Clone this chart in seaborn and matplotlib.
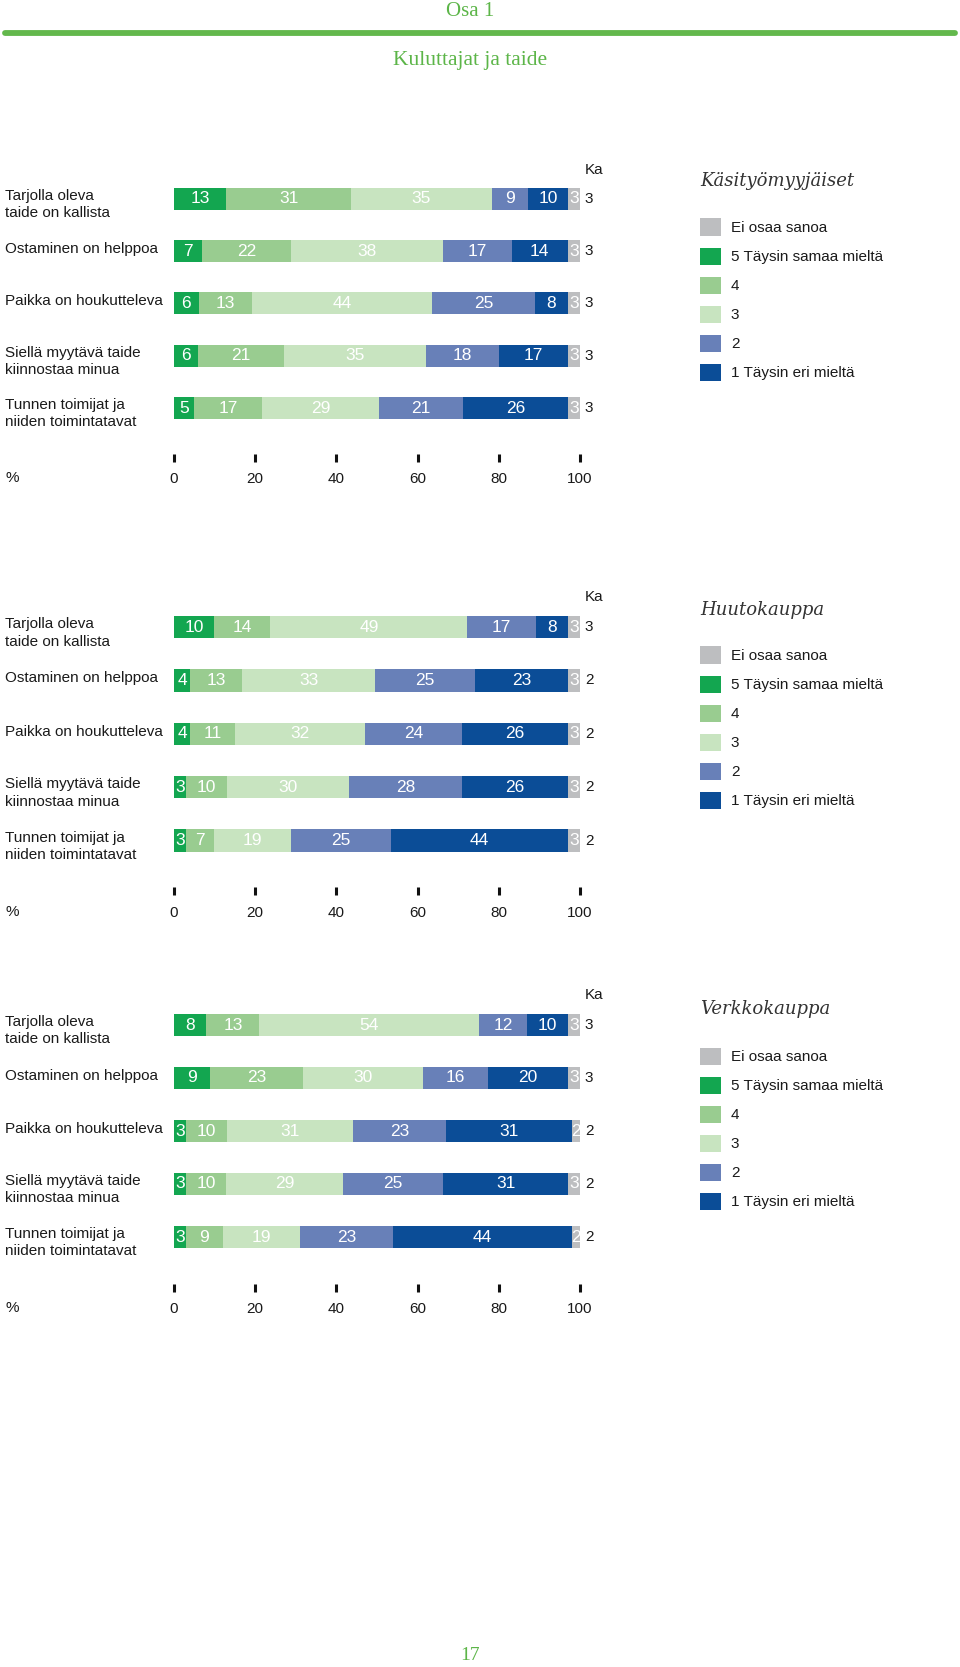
import numpy as np
import pandas as pd
import matplotlib
matplotlib.use("Agg")
import matplotlib.pyplot as plt
import seaborn as sns
from matplotlib.patches import Patch
from matplotlib.lines import Line2D

sns.set_theme(style="white")
plt.rcParams['font.family'] = ['Liberation Sans', 'DejaVu Sans']

# ---------------- data ----------------
items = ["Tarjolla oleva\ntaide on kallista",
         "Ostaminen on helppoa",
         "Paikka on houkutteleva",
         "Siellä myytävä taide\nkiinnostaa minua",
         "Tunnen toimijat ja\nniiden toimintatavat"]
levels = ["5 Täysin samaa mieltä", "4", "3", "2", "1 Täysin eri mieltä", "Ei osaa sanoa"]
legend_order = ["Ei osaa sanoa", "5 Täysin samaa mieltä", "4", "3", "2", "1 Täysin eri mieltä"]
colors = {"5 Täysin samaa mieltä": "#13a650", "4": "#99cc90", "3": "#c8e4c0",
          "2": "#6880b8", "1 Täysin eri mieltä": "#0b4d97", "Ei osaa sanoa": "#bdbec0"}

panel_titles = ["Käsityömyyjäiset", "Huutokauppa", "Verkkokauppa"]

kasi_5 = [13, 7, 6, 6, 5]
kasi_4 = [31, 22, 13, 21, 17]
kasi_3 = [35, 38, 44, 35, 29]
kasi_2 = [9, 17, 25, 18, 21]
kasi_1 = [10, 14, 8, 17, 26]
kasi_eos = [3, 3, 3, 3, 3]
kasi_ka = [3, 3, 3, 3, 3]

huuto_5 = [10, 4, 4, 3, 3]
huuto_4 = [14, 13, 11, 10, 7]
huuto_3 = [49, 33, 32, 30, 19]
huuto_2 = [17, 25, 24, 28, 25]
huuto_1 = [8, 23, 26, 26, 44]
huuto_eos = [3, 3, 3, 3, 3]
huuto_ka = [3, 2, 2, 2, 2]

verkko_5 = [8, 9, 3, 3, 3]
verkko_4 = [13, 23, 10, 10, 9]
verkko_3 = [54, 30, 31, 29, 19]
verkko_2 = [12, 16, 23, 25, 23]
verkko_1 = [10, 20, 31, 31, 44]
verkko_eos = [3, 3, 2, 3, 2]
verkko_ka = [3, 3, 2, 2, 2]

ticks = [0, 20, 40, 60, 80, 100]

panels = [
    (kasi_5, kasi_4, kasi_3, kasi_2, kasi_1, kasi_eos, kasi_ka),
    (huuto_5, huuto_4, huuto_3, huuto_2, huuto_1, huuto_eos, huuto_ka),
    (verkko_5, verkko_4, verkko_3, verkko_2, verkko_1, verkko_eos, verkko_ka),
]

# ---------------- layout (pixels) ----------------
W, H = 960, 1667
fig = plt.figure(figsize=(W / 100, H / 100), dpi=100)

def fx(px):
    return px / W

def fy(py):
    return 1 - py / H

green = "#5cb548"
fig.text(fx(470), fy(12), "Osa 1", ha="center", va="center", color=green,
         family="Liberation Serif", fontsize=15)
fig.add_artist(Line2D([fx(5), fx(955)], [fy(33), fy(33)], color="#63b84c", lw=4.2))
fig.text(fx(470), fy(60), "Kuluttajat ja taide", ha="center", va="center", color=green,
         family="Liberation Serif", fontsize=15.5)
fig.text(fx(470), fy(1655), "17", ha="center", va="center", color=green,
         family="Liberation Serif", fontsize=14)

panel_geom = [
    dict(first=198.8, last=408, title_y=181, leg_y=229),
    dict(first=627, last=840.5, title_y=610, leg_y=657),
    dict(first=1025, last=1237, title_y=1009, leg_y=1058),
]

x0_px, x1_px = 174, 580
text_col = "#1a1a1a"

for p, (vals, geom, title) in enumerate(zip(panels, panel_geom, panel_titles)):
    v5, v4, v3, v2, v1, veos, ka = vals
    series = {"5 Täysin samaa mieltä": v5, "4": v4, "3": v3, "2": v2,
              "1 Täysin eri mieltä": v1, "Ei osaa sanoa": veos}
    df = pd.DataFrame(series, index=items)
    totals = df.sum(axis=1)
    norm = df.div(totals, axis=0) * 100
    cum = norm.cumsum(axis=1)

    spacing = (geom["last"] - geom["first"]) / 4
    top = geom["first"] - 0.5 * spacing
    ybot = 4.88
    bottom = geom["first"] + ybot * spacing
    ax = fig.add_axes([fx(x0_px), fy(bottom), fx(x1_px) - fx(x0_px), (bottom - top) / H])

    # stacked bars: draw cumulative extents from right-most level to left-most
    for lvl in reversed(levels):
        d = pd.DataFrame({"item": items, "value": cum[lvl].values})
        sns.barplot(data=d, x="value", y="item", order=items, orient="h",
                    color=colors[lvl], width=0.42, ax=ax, saturation=1,
                    linewidth=0, errorbar=None)

    # segment labels
    for i, it in enumerate(items):
        prev = 0.0
        for lvl in levels:
            c = cum.loc[it, lvl]
            ax.text((prev + c) / 2, i, str(df.loc[it, lvl]), ha="center", va="center",
                    color="white", fontsize=12.5)
            prev = c
        ax.text(101.2, i, str(ka[i]), ha="left", va="center", fontsize=11, color=text_col)
        off = 0.11 if "\n" in it else -0.04
        ax.text(-(x0_px - 5) / (x1_px - x0_px), i + off, it, transform=ax.get_yaxis_transform(),
                ha="left", va="center", fontsize=11, color=text_col, linespacing=1.3)
    ax.text(101.2, -0.56, "Ka", ha="left", va="center", fontsize=11, color=text_col)

    ax.set_xlim(0, 100)
    ax.set_ylim(ybot, -0.5)
    ax.set_xticks(ticks)
    ax.set_xticklabels([str(t) for t in ticks])
    ax.set_yticks([])
    ax.set_xlabel("")
    ax.set_ylabel("")
    for s in ax.spines.values():
        s.set_visible(False)
    ax.tick_params(axis="x", direction="out", length=6, width=2.2, color="#111111",
                   labelsize=11, labelcolor=text_col, pad=7, bottom=True)
    ax.patch.set_alpha(0)

    ax.text(-(x0_px - 5) / (x1_px - x0_px), -0.086, "%", transform=ax.transAxes,
            ha="left", va="center", fontsize=11, color=text_col)

    # legend
    fig.text(fx(700), fy(geom["title_y"]), title, ha="left", va="center",
             family="DejaVu Serif", style="italic", fontsize=13, color="#333333")
    handles = [Patch(facecolor=colors[l], edgecolor="none") for l in legend_order]
    fig.legend(handles, legend_order, loc="upper left",
               bbox_to_anchor=(fx(700), fy(geom["leg_y"] - 10.5)),
               bbox_transform=fig.transFigure, frameon=False, fontsize=11,
               handlelength=1.375, handleheight=1.375, labelspacing=0.76,
               handletextpad=0.65, borderpad=0, borderaxespad=0,
               labelcolor=text_col)

fig.savefig("out.png", dpi=100, facecolor="white")
